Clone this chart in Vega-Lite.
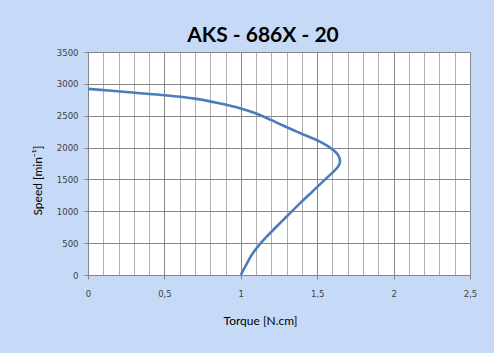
{
  "$schema": "https://vega.github.io/schema/vega-lite/v6.json",
  "width": 382,
  "height": 223,
  "autosize": {"type": "none"},
  "padding": {"left": 88, "top": 52, "right": 24, "bottom": 78},
  "background": "#c6daf7",
  "title": {
    "text": "AKS - 686X - 20",
    "font": "Lato",
    "fontSize": 21,
    "fontWeight": "bold",
    "color": "#000000",
    "anchor": "middle",
    "dx": -16,
    "offset": 2,
    "frame": "group"
  },
  "data": {
    "values": [
      {"i": 0, "torque": 0.0, "speed": 2922},
      {"i": 1, "torque": 0.308, "speed": 2860},
      {"i": 2, "torque": 0.504, "speed": 2822},
      {"i": 3, "torque": 0.70, "speed": 2768},
      {"i": 4, "torque": 0.85, "speed": 2700},
      {"i": 5, "torque": 1.0, "speed": 2615},
      {"i": 6, "torque": 1.1, "speed": 2535},
      {"i": 7, "torque": 1.2, "speed": 2430},
      {"i": 8, "torque": 1.366, "speed": 2250},
      {"i": 9, "torque": 1.518, "speed": 2093},
      {"i": 10, "torque": 1.6, "speed": 1972},
      {"i": 11, "torque": 1.635, "speed": 1890},
      {"i": 12, "torque": 1.649, "speed": 1800},
      {"i": 13, "torque": 1.642, "speed": 1720},
      {"i": 14, "torque": 1.615, "speed": 1642},
      {"i": 15, "torque": 1.57, "speed": 1540},
      {"i": 16, "torque": 1.475, "speed": 1325},
      {"i": 17, "torque": 1.387, "speed": 1125},
      {"i": 18, "torque": 1.28, "speed": 870},
      {"i": 19, "torque": 1.169, "speed": 601},
      {"i": 20, "torque": 1.115, "speed": 455},
      {"i": 21, "torque": 1.075, "speed": 330},
      {"i": 22, "torque": 1.035, "speed": 160},
      {"i": 23, "torque": 1.0, "speed": 0}
    ]
  },
  "mark": {"type": "line", "color": "#4a7ebb", "strokeWidth": 2.6, "interpolate": "catmull-rom", "clip": true},
  "encoding": {
    "order": {"field": "i", "type": "quantitative"},
    "x": {
      "field": "torque",
      "type": "quantitative",
      "scale": {"domain": [0, 2.5], "nice": false, "zero": false},
      "axis": {
        "values": [0, 0.1, 0.2, 0.3, 0.4, 0.5, 0.6, 0.7, 0.8, 0.9, 1.0, 1.1, 1.2, 1.3, 1.4, 1.5, 1.6, 1.7, 1.8, 1.9, 2.0, 2.1, 2.2, 2.3, 2.4, 2.5],
        "labelExpr": "round(datum.value*10) % 5 == 0 ? replace(format(datum.value, '~g'), '.', ',') : ''",
        "title": "Torque [N.cm]",
        "titleFont": "Lato",
        "titleFontSize": 12,
        "titleFontWeight": "normal",
        "titleColor": "#000000",
        "titleX": 172,
        "titleY": 52,
        "titleBaseline": "bottom",
        "labelFont": "DejaVu Sans",
        "labelFontSize": 8.5,
        "labelColor": "#404040",
        "labelPadding": 14,
        "labelBaseline": "middle",
        "labelFlush": false,
        "labelOverlap": false,
        "tickSize": 4,
        "tickColor": "#868686",
        "tickOpacity": {"condition": {"test": "round(datum.value*10) % 5 == 0", "value": 1}, "value": 0},
        "domainColor": "#868686",
        "grid": true,
        "gridColor": {"condition": {"test": "round(datum.value*10) % 5 == 0", "value": "#868686"}, "value": "#b0b0b0"},
        "gridWidth": 1,
        "gridOpacity": 1
      }
    },
    "y": {
      "field": "speed",
      "type": "quantitative",
      "scale": {"domain": [0, 3500], "nice": false},
      "axis": {
        "values": [0, 500, 1000, 1500, 2000, 2500, 3000, 3500],
        "format": "d",
        "title": "Speed [min⁻¹]",
        "titleFont": "Lato",
        "titleFontSize": 12,
        "titleFontWeight": "normal",
        "titleColor": "#000000",
        "titleAngle": -90,
        "titleX": -51,
        "titleY": 128,
        "titleAlign": "center",
        "titleBaseline": "middle",
        "labelFont": "DejaVu Sans",
        "labelFontSize": 8.5,
        "labelColor": "#404040",
        "labelPadding": 6,
        "tickSize": 4,
        "tickColor": "#868686",
        "domainColor": "#868686",
        "grid": true,
        "gridColor": "#868686",
        "gridOpacity": 1
      }
    }
  },
  "config": {
    "view": {"fill": "#ffffff", "stroke": "#868686", "strokeWidth": 1}
  }
}
